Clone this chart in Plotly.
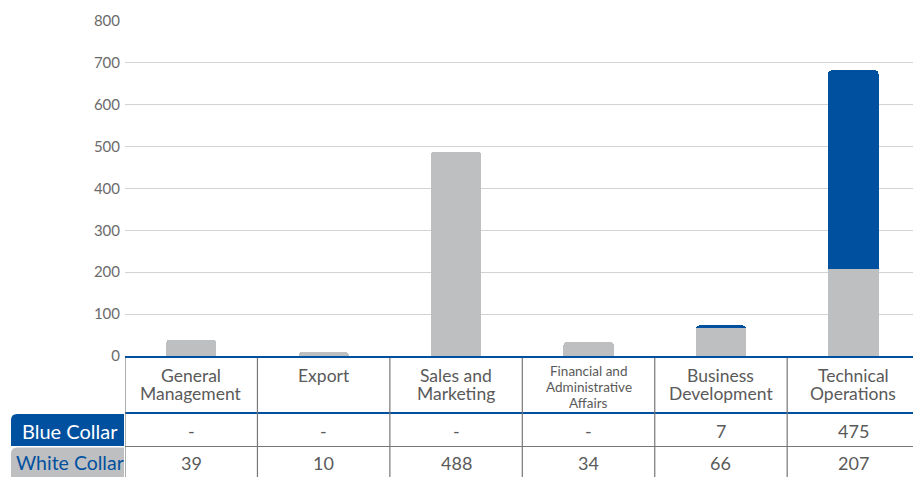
import plotly.graph_objects as go

categories = ["General<br>Management", "Export", "Sales and<br>Marketing",
              "Financial and<br>Administrative<br>Affairs", "Business<br>Development",
              "Technical<br>Operations"]
white_collar = [39, 10, 488, 34, 66, 207]
blue_collar = [None, None, None, None, 7, 475]
y_ticks = [0, 100, 200, 300, 400, 500, 600, 700, 800]

BLUE = "#0050a0"
GRAY = "#bebfc1"
TXT = "#5a5a5a"
FONT = "Lato"

W, H = 913, 477
L, R, T, B = 125, 0, 20, 121
PW, PH = W - L - R, H - T - B


def py(y):
    return (H - B - y) / PH


def pxx(x):
    return (x - L) / PW


xs = list(range(len(categories)))
fig = go.Figure()
fig.add_trace(go.Bar(x=xs, y=white_collar, name="White Collar", marker_color=GRAY,
                     marker_line_width=0, width=0.38))
fig.add_trace(go.Bar(x=xs, y=[v if v is not None else 0 for v in blue_collar],
                     name="Blue Collar", marker_color=BLUE, marker_line_width=0, width=0.38))

shapes = []
annotations = []

# table lines
shapes.append(dict(type="line", xref="paper", yref="paper", x0=0, x1=1, y0=py(357), y1=py(357),
                   line=dict(color=BLUE, width=2)))
shapes.append(dict(type="line", xref="paper", yref="paper", x0=0, x1=1, y0=py(413), y1=py(413),
                   line=dict(color=BLUE, width=2)))
shapes.append(dict(type="line", xref="paper", yref="paper", x0=0, x1=1, y0=py(446.5), y1=py(446.5),
                   line=dict(color="#777777", width=1.2)))
for i in range(len(categories)):
    shapes.append(dict(type="line", xref="x", yref="paper", x0=i - 0.5, x1=i - 0.5,
                       y0=py(358), y1=py(477), line=dict(color="#777777", width=1.2)))


def rounded_box(x0, x1, y0, y1, r, color):
    X0, X1 = pxx(x0), pxx(x1)
    Y0, Y1 = py(y1), py(y0)
    rx, ry = r / PW, r / PH
    path = (f"M {X0},{Y0} L {X0},{Y1 - ry} Q {X0},{Y1} {X0 + rx},{Y1} "
            f"L {X1},{Y1} L {X1},{Y0} Z")
    return dict(type="path", xref="paper", yref="paper", path=path,
                fillcolor=color, line=dict(width=0), layer="above")


shapes.append(rounded_box(11, 124, 414, 446, 6, BLUE))
shapes.append(rounded_box(11, 124, 447.5, 477, 6, GRAY))

annotations.append(dict(text="Blue Collar", xref="paper", yref="paper", x=pxx(69.5), y=py(430.5),
                        showarrow=False, font=dict(family=FONT, size=20, color="white"),
                        xanchor="center", yanchor="middle"))
annotations.append(dict(text="White Collar", xref="paper", yref="paper", x=pxx(69.5), y=py(462.5),
                        showarrow=False, font=dict(family=FONT, size=19.5, color=BLUE),
                        xanchor="center", yanchor="middle"))

# category header labels
for i, c in enumerate(categories):
    lines = c.split("<br>")
    if len(lines) == 3:
        size, top, step = 13.5, 371, 16
    else:
        size, top, step = 17.5, 375.5, 18
    for j, ln in enumerate(lines):
        annotations.append(dict(text=ln, xref="x", yref="paper", x=i, y=py(top + j * step),
                                showarrow=False, font=dict(family=FONT, size=size, color=TXT),
                                xanchor="center", yanchor="middle"))

# values
for i in xs:
    b = blue_collar[i]
    annotations.append(dict(text="-" if b is None else str(b), xref="x", yref="paper", x=i,
                            y=py(431), showarrow=False, xanchor="center", yanchor="middle",
                            font=dict(family=FONT, size=18, color=TXT)))
    annotations.append(dict(text=str(white_collar[i]), xref="x", yref="paper", x=i,
                            y=py(463), showarrow=False, xanchor="center", yanchor="middle",
                            font=dict(family=FONT, size=18, color=TXT)))

fig.update_layout(
    width=W, height=H,
    margin=dict(l=L, r=R, t=T, b=B, pad=0),
    barmode="stack",
    barcornerradius=4,
    showlegend=False,
    plot_bgcolor="white", paper_bgcolor="white",
    font=dict(family=FONT),
    xaxis=dict(range=[-0.5, 5.45], showticklabels=False, showgrid=False, zeroline=False,
               fixedrange=True),
    yaxis=dict(range=[0, 802], tickvals=y_ticks, showgrid=True, gridcolor="#d3d3d3",
               gridwidth=1, zeroline=False, ticks="",
               tickfont=dict(family=FONT, size=15, color="#6b6b6b"), ticklabelstandoff=4),
    shapes=shapes,
    annotations=annotations,
)

fig.write_html("out.html", config={"displayModeBar": False},
               post_script="document.body.style.margin='0px';document.body.style.overflow='hidden';")
